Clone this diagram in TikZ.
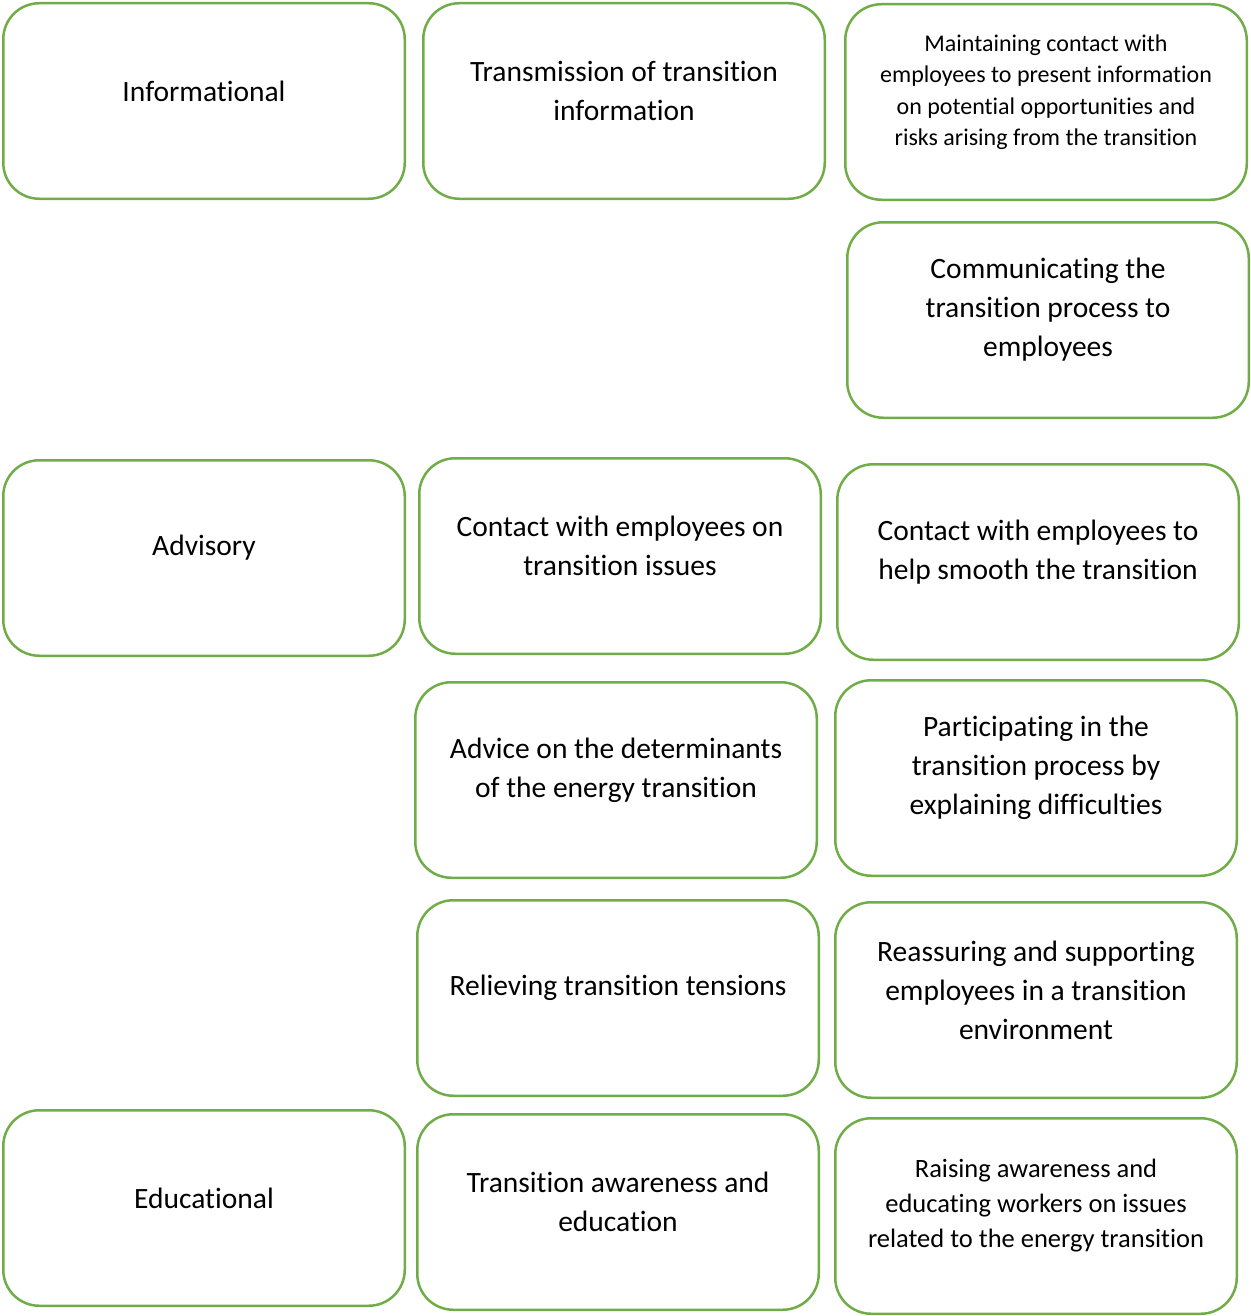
\documentclass[tikz,border=0pt]{standalone}
\usepackage{fontspec}
\setmainfont{Carlito}[Ligatures={NoCommon,NoRequired}]
\definecolor{boxgreen}{HTML}{70AD47}
\begin{document}
\begin{tikzpicture}[x=1pt,y=-1pt,
  box/.style={draw=boxgreen, line width=2.5pt, rounded corners=36pt, minimum width=401.5pt, minimum height=195.5pt, inner sep=0pt, anchor=north west},
  lbl/.style={align=center, font=\fontsize{29.5}{39}\selectfont, inner sep=0pt},
  slbl/.style={align=center, font=\fontsize{24}{31.5}\selectfont, inner sep=0pt}]
\useasboundingbox (0,0) rectangle (1250,1316);
% column 1
\node[box] (inf) at (2,2) {};
\node[box] (adv) at (2,459) {};
\node[box] (edu) at (2,1109) {};
% column 2
\node[box] (tti) at (422,2) {};
\node[box] (cei) at (418,457) {};
\node[box] (ade) at (414,681) {};
\node[box] (rtt) at (416,899) {};
\node[box] (tae) at (416,1113) {};
% column 3
\node[box] (mce) at (844,3) {};
\node[box] (ctp) at (846,221) {};
\node[box] (ces) at (836,463) {};
\node[box] (ptp) at (834,679) {};
\node[box] (rse) at (834,901) {};
\node[box] (rae) at (834,1117) {};
% labels
\node[lbl] (inft) at ([yshift=10pt]inf.center) {Informational};
\node[lbl] (advt) at ([yshift=10pt]adv.center) {Advisory};
\node[lbl] (edut) at ([yshift=10pt]edu.center) {Educational};
\node[lbl] (ttit) at ([yshift=10pt]tti.center) {Transmission of transition\\information};
\node[lbl] (ceit) at ([yshift=10pt]cei.center) {Contact with employees on\\transition issues};
\node[lbl] (adet) at ([yshift=10pt]ade.center) {Advice on the determinants\\of the energy transition};
\node[lbl] (rttt) at ([yshift=10pt]rtt.center) {Relieving transition tensions};
\node[lbl] (taet) at ([yshift=10pt]tae.center) {Transition awareness and\\education};
\node[slbl] (mcet) at ([yshift=10pt]mce.center) {Maintaining contact with\\employees to present information\\on potential opportunities and\\risks arising from the transition};
\node[lbl] (ctpt) at ([yshift=10pt]ctp.center) {Communicating the\\transition process to\\employees};
\node[lbl] (cest) at ([yshift=10pt]ces.center) {Contact with employees to\\help smooth the transition};
\node[lbl] (ptpt) at ([yshift=10pt]ptp.center) {Participating in the\\transition process by\\explaining difficulties};
\node[lbl] (rset) at ([yshift=10pt]rse.center) {Reassuring and supporting\\employees in a transition\\environment};
\node[lbl, font=\fontsize{26.5}{35}\selectfont] (raet) at ([yshift=10pt]rae.center) {Raising awareness and\\educating workers on issues\\related to the energy transition};
\end{tikzpicture}
\end{document}
